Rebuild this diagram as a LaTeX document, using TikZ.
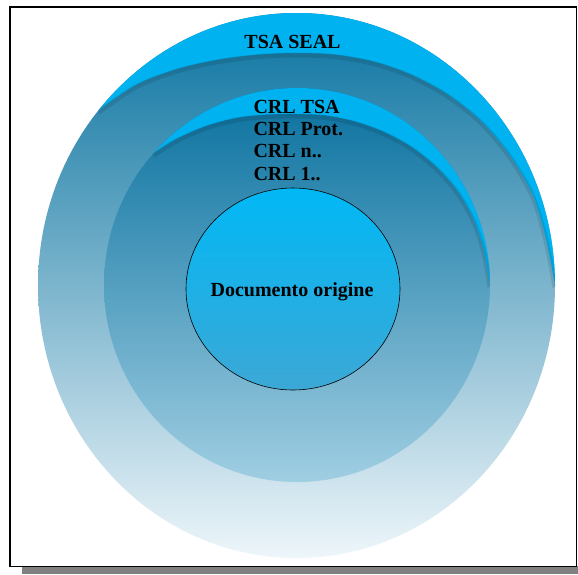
\documentclass[tikz,border=0pt]{standalone}
\usepackage{fontspec}
\setmainfont{Liberation Serif}
\usepackage{xcolor}
\usepackage{tikz}
\usetikzlibrary{
	positioning
}
\definecolor{SkyCyan}{RGB}{0,178,240}
\definecolor{OuterTop}{RGB}{10,115,160}
\definecolor{OuterMid}{RGB}{85,165,200}
\definecolor{OuterBot}{RGB}{238,246,250}
\definecolor{MidTop}{RGB}{8,112,158}
\definecolor{MidMid}{RGB}{28,134,180}
\definecolor{MidBot}{RGB}{160,206,226}
\definecolor{CoreTop}{RGB}{0,184,245}
\definecolor{CoreBot}{RGB}{60,168,214}
\definecolor{ShadowGray}{RGB}{128,128,128}

% bordo interno della fascia luminosa
\newcommand{\outerrim}{plot[smooth] coordinates {(98.5,110.3) (136.8,84.4) (178.3,68.6) (219,59.5) (258.2,54.6) (296.5,53) (334.8,54.6) (373.3,61.4) (411.3,74.6) (447.9,94.4) (481.5,121.3) (510,155.3) (532.8,194.7) (546.1,239.1) (555,285.5)}}
\newcommand{\midrim}{plot[smooth] coordinates {(153.6,153.2) (176.8,138.7) (207,125.7) (237.5,117.7) (267.7,114.6) (297,114) (326.2,115.6) (355.1,121.5) (383.5,131.7) (410.8,146.4) (435.6,166.1) (457.2,190.5) (473.7,219.3) (484.1,251.3) (490,285)}}

\begin{document}
\begin{tikzpicture}[x=1pt, y=-1pt,
	ringtext/.style={font=\fontsize{20}{22}\selectfont\bfseries, inner sep=0pt},
	beveledge/.style={line width=5pt, black, opacity=.1, yshift=-2pt}]
		\useasboundingbox (0,0) rectangle (578,574);
		
		% cornice con ombra
		\fill[ShadowGray] (22,566) rectangle (578,574);
		\draw[line width=1.3pt, fill=white] (10,7) rectangle (576.5,566.5);
		
		% anello esterno
		\shade[top color=OuterTop, middle color=OuterMid, bottom color=OuterBot]
			(296.5,285.5) ellipse [x radius=258.5pt, y radius=272.5pt];
		\begin{scope}
			\clip (296.5,285.5) ellipse [x radius=258.5pt, y radius=272.5pt];
			\fill[SkyCyan] \outerrim -- (578,285.5) -- (578,0) -- (0,0) -- (0,110.3) -- cycle;
			\draw[beveledge] \outerrim;
		\end{scope}
		
		% anello medio
		\shade[top color=MidTop, middle color=MidMid, bottom color=MidBot]
			(297,285) ellipse [x radius=193pt, y radius=197pt];
		\begin{scope}
			\clip (297,285) ellipse [x radius=193pt, y radius=197pt];
			\fill[SkyCyan] \midrim -- (578,285) -- (578,0) -- (0,0) -- (0,153.2) -- cycle;
			\draw[beveledge] \midrim;
		\end{scope}
		
		% documento
		\coordinate (core) at (293,289);
		\shade[draw=black, line width=0.6pt, top color=CoreTop, bottom color=CoreBot]
			(core) ellipse [x radius=107pt, y radius=101pt];
		
		\node[ringtext, anchor=base] (seal) at (292.5,48.3) {TSA SEAL};
		\node[ringtext, anchor=base west] (crltsa) at (253.3,113.3) {CRL TSA};
		\node[ringtext, below=22.3pt of crltsa.base west, anchor=base west] (crlprot) {CRL Prot.};
		\node[ringtext, below=22.3pt of crlprot.base west, anchor=base west] (crln) {CRL n..};
		\node[ringtext, below=22.3pt of crln.base west, anchor=base west] (crlone) {CRL 1..};
		\node[ringtext, anchor=base] (doc) at (292,296) {Documento origine};
		
	\end{tikzpicture}
\end{document}
